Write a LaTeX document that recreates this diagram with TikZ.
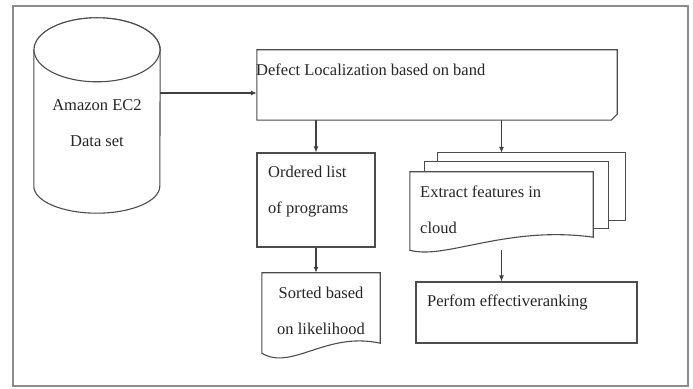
\documentclass[tikz,border=0pt]{standalone}
\usepackage{fontspec}
\setmainfont{Liberation Serif}
\usetikzlibrary{arrows.meta,positioning,shapes,calc}

\begin{document}
\begin{tikzpicture}[x=1pt, y=1pt,
    box/.style={rectangle, draw=black!70, line width=1.1pt, fill=white, inner sep=0},
    area/.style={rectangle, inner sep=0},
    doc/.style={draw=black!70, line width=1.1pt, fill=white},
    txt/.style={font=\fontsize{16.5}{36}\selectfont, text=black!85, inner sep=0},
    arrow/.style={-{Latex[length=6pt,width=5pt]}, draw=black!75, line width=1.1pt}
]
\useasboundingbox (0,0) rectangle (693,388);
\draw[black!45, line width=1.6pt] (13,382) rectangle (688,2);
% data set
\node[area, minimum width=126pt, minimum height=195pt] (db) at (97,272.5) {};
\draw[doc] ($(db.north west)+(0,-32)$) -- ($(db.south west)+(0,27)$)
  arc[start angle=180, end angle=360, x radius=63, y radius=27]
  -- ($(db.north east)+(0,-32)$) arc[start angle=0, end angle=180, x radius=63, y radius=32] -- cycle;
\draw[doc] ($(db.north)+(0,-32)$) ellipse[x radius=63, y radius=32];
\node[txt, align=center] (dbtxt) at (97,264.5) {Amazon EC2\\Data set};
% localization
\node[area, minimum width=360pt, minimum height=70pt] (defect) at (437,303) {};
\draw[doc] (defect.north west) -- (defect.north east) -- ($(defect.south east)+(0,6)$)
  -- ($(defect.south east)+(-6,0)$) -- (defect.south west) -- cycle;
\node[txt, anchor=west] (defecttxt) at (256,318) {Defect Localization based on band};
% left branch
\node[box, minimum width=118pt, minimum height=94pt] (order) at (316,188) {};
\node[txt, anchor=west, align=left] (ordertxt) at (268,196.5) {Ordered list\\of programs};
\node[area, minimum width=118pt, minimum height=80pt] (sorted) at (321,75) {};
\draw[doc] (sorted.north west) -- (sorted.north east) -- ($(sorted.south east)+(0,10)$)
  .. controls ($(sorted.south)+(5,22)$) and ($(sorted.south west)+(30,-18)$) .. (sorted.south west) -- cycle;
\node[txt, align=center] (sortedtxt) at (321,77.5) {Sorted based\\on likelihood};
% right branch
\node[area, minimum width=183pt, minimum height=78pt] (extract) at (501.5,177) {};
\coordinate (stack) at ($(extract.north west)+(28,19)$);
\draw[doc] (stack) rectangle ($(extract.south east)+(32,30)$);
\draw[doc] ($(extract.north west)+(15,10)$) rectangle ($(extract.south east)+(15,22)$);
\draw[doc] (extract.north west) -- (extract.north east) -- ($(extract.south east)+(0,13)$)
  .. controls ($(extract.south)+(5,25)$) and ($(extract.south west)+(35,-10)$) .. (extract.south west) -- cycle;
\node[txt, anchor=west, align=left] (extracttxt) at (420,178.5) {Extract features in\\cloud};
\node[box, minimum width=221pt, minimum height=61pt] (perform) at (526.5,75.5) {};
\node[txt, anchor=west] (performtxt) at (427,86) {Perfom effectiveranking};
% connectors
\coordinate (feed) at (0,295);
\draw[arrow] (db.east |- feed) -- (defect.west |- feed);
\draw[arrow] (order.north |- defect.south) -- (order.north);
\draw[arrow] (extract.north |- defect.south) -- (extract.north |- stack);
\draw[arrow] (order.south) -- (order.south |- sorted.north);
\draw[arrow] (extract.south) -- (extract.south |- perform.north);
\end{tikzpicture}
\end{document}
